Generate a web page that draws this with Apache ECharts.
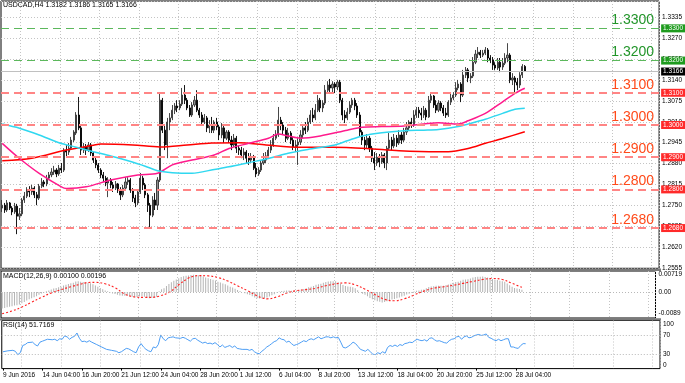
<!DOCTYPE html>
<html><head><meta charset="utf-8">
<script src="https://cdn.jsdelivr.net/npm/echarts@6/dist/echarts.min.js"></script>
<style>html,body{margin:0;padding:0;background:#fff}#c{width:685px;height:383px}</style>
</head><body><div id="c"></div>
<script>
const symbolName = 'USDCAD,H4';
const tickLabels = ['9 Jun 2016','14 Jun 04:00','16 Jun 20:00','21 Jun 12:00','24 Jun 04:00','28 Jun 20:00','1 Jul 12:00','6 Jul 04:00','8 Jul 20:00','13 Jul 12:00','18 Jul 04:00','20 Jul 20:00','25 Jul 12:00','28 Jul 04:00'];
const greenLevels = [1.3300, 1.3200];
const redLevels = [1.3100, 1.3000, 1.2900, 1.2800, 1.2680];
// [open, close, low, high]
const ohlc = [
[1.2742,1.2751,1.2730,1.2767],[1.2751,1.2736,1.2727,1.2758],[1.2736,1.2758,1.2730,1.2767],[1.2758,1.2742,1.2736,1.2761],
[1.2742,1.2730,1.2720,1.2748],[1.2730,1.2748,1.2724,1.2758],[1.2748,1.2717,1.2661,1.2755],[1.2717,1.2724,1.2705,1.2742],
[1.2724,1.2767,1.2717,1.2773],[1.2767,1.2779,1.2758,1.2792],[1.2779,1.2798,1.2773,1.2807],[1.2798,1.2792,1.2776,1.2810],
[1.2792,1.2804,1.2783,1.2814],[1.2804,1.2783,1.2773,1.2810],[1.2783,1.2773,1.2751,1.2792],[1.2773,1.2810,1.2767,1.2817],
[1.2810,1.2823,1.2804,1.2835],[1.2823,1.2817,1.2807,1.2829],[1.2817,1.2835,1.2810,1.2845],[1.2835,1.2845,1.2829,1.2854],
[1.2845,1.2854,1.2838,1.2866],[1.2854,1.2860,1.2845,1.2873],[1.2860,1.2848,1.2838,1.2866],[1.2848,1.2866,1.2842,1.2876],
[1.2866,1.2860,1.2851,1.2882],[1.2860,1.2922,1.2854,1.2928],[1.2922,1.2916,1.2900,1.2938],[1.2916,1.2928,1.2907,1.2944],
[1.2928,1.2953,1.2922,1.2963],[1.2953,1.2978,1.2947,1.2984],[1.2975,1.3031,1.2969,1.3040],[1.3031,1.2991,1.2984,1.3087],
[1.2991,1.2922,1.2907,1.2997],[1.2922,1.2932,1.2913,1.2944],[1.2932,1.2922,1.2907,1.2941],[1.2922,1.2938,1.2916,1.2947],
[1.2938,1.2913,1.2904,1.2944],[1.2913,1.2891,1.2882,1.2916],[1.2891,1.2876,1.2866,1.2900],[1.2876,1.2860,1.2851,1.2882],
[1.2860,1.2845,1.2835,1.2866],[1.2845,1.2835,1.2823,1.2854],[1.2835,1.2820,1.2810,1.2842],[1.2820,1.2829,1.2776,1.2838],
[1.2829,1.2814,1.2804,1.2835],[1.2814,1.2804,1.2792,1.2823],[1.2804,1.2817,1.2798,1.2826],[1.2817,1.2798,1.2789,1.2820],
[1.2798,1.2783,1.2767,1.2807],[1.2783,1.2804,1.2776,1.2814],[1.2804,1.2823,1.2798,1.2838],[1.2823,1.2829,1.2814,1.2838],
[1.2829,1.2798,1.2789,1.2835],[1.2798,1.2773,1.2761,1.2804],[1.2773,1.2758,1.2745,1.2783],[1.2758,1.2792,1.2751,1.2798],
[1.2792,1.2835,1.2786,1.2851],[1.2835,1.2814,1.2798,1.2842],[1.2814,1.2783,1.2773,1.2820],[1.2783,1.2751,1.2730,1.2789],
[1.2751,1.2720,1.2683,1.2758],[1.2720,1.2767,1.2714,1.2779],[1.2767,1.2751,1.2736,1.2789],[1.2751,1.2829,1.2736,1.2838],
[1.2829,1.3077,1.2823,1.3099],[1.3077,1.2984,1.2975,1.3084],[1.2984,1.2938,1.2922,1.3000],[1.2938,1.3009,1.2897,1.3022],
[1.3009,1.3022,1.2984,1.3037],[1.3022,1.3046,1.3015,1.3062],[1.3046,1.3059,1.3034,1.3068],[1.3059,1.3053,1.3040,1.3077],
[1.3053,1.3065,1.3046,1.3077],[1.3065,1.3093,1.3059,1.3115],[1.3093,1.3077,1.3065,1.3124],[1.3077,1.3053,1.3046,1.3084],
[1.3053,1.3031,1.3025,1.3062],[1.3031,1.3062,1.3025,1.3071],[1.3062,1.3077,1.3056,1.3090],[1.3077,1.3046,1.3040,1.3108],
[1.3046,1.3031,1.3022,1.3053],[1.3031,1.3009,1.3000,1.3040],[1.3009,1.3022,1.3003,1.3034],[1.3022,1.2991,1.2978,1.3028],
[1.2991,1.3000,1.2975,1.3015],[1.3000,1.2984,1.2975,1.3025],[1.2984,1.3009,1.2975,1.3015],[1.3009,1.2994,1.2984,1.3022],
[1.2994,1.2969,1.2953,1.3000],[1.2969,1.2991,1.2959,1.3006],[1.2991,1.2959,1.2944,1.2997],[1.2959,1.2978,1.2953,1.2984],
[1.2978,1.2953,1.2944,1.2984],[1.2953,1.2938,1.2922,1.2966],[1.2938,1.2959,1.2932,1.2972],[1.2959,1.2928,1.2913,1.2966],
[1.2928,1.2922,1.2907,1.2935],[1.2922,1.2907,1.2897,1.2932],[1.2907,1.2916,1.2891,1.2928],[1.2916,1.2897,1.2882,1.2922],
[1.2897,1.2891,1.2876,1.2913],[1.2891,1.2900,1.2885,1.2913],[1.2900,1.2866,1.2860,1.2907],[1.2866,1.2848,1.2838,1.2882],
[1.2848,1.2860,1.2842,1.2869],[1.2860,1.2882,1.2854,1.2891],[1.2882,1.2891,1.2876,1.2913],[1.2891,1.2904,1.2882,1.2916],
[1.2904,1.2922,1.2897,1.2932],[1.2922,1.2938,1.2913,1.2953],[1.2938,1.2959,1.2932,1.2972],[1.2959,1.2969,1.2953,1.2984],
[1.2969,1.3015,1.2963,1.3056],[1.3015,1.3000,1.2984,1.3025],[1.3000,1.2984,1.2969,1.3009],[1.2984,1.2959,1.2947,1.2994],
[1.2959,1.2975,1.2953,1.2991],[1.2975,1.2953,1.2941,1.2981],[1.2953,1.2932,1.2922,1.2963],[1.2932,1.2938,1.2916,1.2953],
[1.2938,1.2947,1.2876,1.2959],[1.2947,1.2969,1.2938,1.2984],[1.2969,1.2991,1.2959,1.3003],[1.2991,1.2984,1.2972,1.3009],
[1.2984,1.3009,1.2978,1.3022],[1.3009,1.3031,1.3003,1.3046],[1.3031,1.3022,1.3009,1.3053],[1.3022,1.3046,1.3015,1.3065],
[1.3046,1.3077,1.3040,1.3093],[1.3077,1.3053,1.3040,1.3084],[1.3053,1.3068,1.3040,1.3077],[1.3068,1.3108,1.3062,1.3124],
[1.3108,1.3124,1.3099,1.3136],[1.3124,1.3115,1.3102,1.3143],[1.3115,1.3127,1.3102,1.3136],[1.3127,1.3118,1.3099,1.3133],
[1.3118,1.3133,1.3108,1.3140],[1.3133,1.3077,1.3068,1.3140],[1.3077,1.3031,1.3015,1.3084],[1.3031,1.3022,1.3006,1.3046],
[1.3022,1.3040,1.3015,1.3053],[1.3040,1.3062,1.3034,1.3074],[1.3062,1.3077,1.3053,1.3084],[1.3077,1.3059,1.3046,1.3084],
[1.3059,1.3031,1.3022,1.3068],[1.3031,1.2978,1.2963,1.3040],[1.2978,1.2953,1.2938,1.2984],[1.2953,1.2938,1.2922,1.2963],
[1.2938,1.2959,1.2928,1.2972],[1.2959,1.2928,1.2916,1.2966],[1.2928,1.2897,1.2885,1.2935],[1.2897,1.2882,1.2860,1.2916],
[1.2882,1.2900,1.2873,1.2913],[1.2900,1.2885,1.2869,1.2910],[1.2885,1.2907,1.2879,1.2916],[1.2907,1.2882,1.2866,1.2913],
[1.2882,1.2928,1.2860,1.2935],[1.2928,1.2953,1.2922,1.2975],[1.2953,1.2935,1.2922,1.2963],[1.2935,1.2959,1.2928,1.2972],
[1.2959,1.2944,1.2932,1.2969],[1.2944,1.2969,1.2938,1.2984],[1.2969,1.2953,1.2941,1.2978],[1.2953,1.2978,1.2947,1.2991],
[1.2978,1.2991,1.2969,1.3009],[1.2991,1.3009,1.2984,1.3015],[1.3009,1.3000,1.2991,1.3022],[1.3000,1.3031,1.2994,1.3046],
[1.3031,1.3046,1.3022,1.3056],[1.3046,1.3037,1.3022,1.3056],[1.3037,1.3031,1.3015,1.3053],[1.3031,1.3046,1.3022,1.3059],
[1.3046,1.3025,1.3015,1.3053],[1.3025,1.3077,1.3022,1.3090],[1.3077,1.3090,1.3068,1.3099],[1.3090,1.3062,1.3053,1.3093],
[1.3062,1.3046,1.3037,1.3077],[1.3046,1.3068,1.3040,1.3077],[1.3068,1.3053,1.3043,1.3074],[1.3053,1.3037,1.3028,1.3062],
[1.3037,1.3031,1.3022,1.3053],[1.3031,1.3071,1.3025,1.3077],[1.3071,1.3084,1.3062,1.3099],[1.3084,1.3093,1.3077,1.3102],
[1.3093,1.3115,1.3087,1.3133],[1.3115,1.3127,1.3108,1.3140],[1.3127,1.3093,1.3071,1.3133],[1.3093,1.3155,1.3087,1.3171],
[1.3155,1.3171,1.3146,1.3180],[1.3171,1.3146,1.3133,1.3177],[1.3146,1.3152,1.3130,1.3161],[1.3152,1.3195,1.3146,1.3211],
[1.3195,1.3220,1.3189,1.3233],[1.3220,1.3226,1.3208,1.3242],[1.3226,1.3217,1.3208,1.3233],[1.3217,1.3223,1.3211,1.3233],
[1.3223,1.3233,1.3217,1.3242],[1.3233,1.3208,1.3195,1.3239],[1.3208,1.3202,1.3192,1.3217],[1.3202,1.3186,1.3171,1.3211],
[1.3186,1.3177,1.3171,1.3195],[1.3177,1.3195,1.3171,1.3208],[1.3195,1.3180,1.3164,1.3208],[1.3180,1.3192,1.3171,1.3208],
[1.3192,1.3208,1.3186,1.3223],[1.3208,1.3217,1.3195,1.3254],[1.3217,1.3140,1.3130,1.3223],[1.3140,1.3146,1.3124,1.3161],
[1.3146,1.3133,1.3102,1.3152],[1.3133,1.3124,1.3108,1.3146],[1.3124,1.3155,1.3115,1.3164],[1.3155,1.3182,1.3146,1.3189],
[1.3182,1.3166,1.3165,1.3186]
];
// moving averages, [bar index, value]
const redMA = [[0,1.2889],[12,1.2897],[26,1.2922],[37,1.2937],[40,1.2941],[53,1.2938],[64,1.2932],[75,1.2938],[85,1.2944],[96,1.2945],[107,1.2938],[121,1.2931],[134,1.2931],[148,1.2927],[161,1.2920],[177,1.2917],[181,1.2917],[189,1.2927],[196,1.2943],[203,1.2958],[212,1.2979]];
const pinkMA = [[0,1.2943],[7,1.2896],[15,1.2850],[24,1.2808],[26,1.2803],[34,1.2808],[44,1.2829],[55,1.2845],[63,1.2850],[69,1.2876],[77,1.2891],[86,1.2907],[92,1.2927],[100,1.2943],[108,1.2959],[112,1.2972],[116,1.2966],[121,1.2959],[129,1.2966],[140,1.2984],[146,1.2993],[154,1.2995],[163,1.2997],[171,1.3003],[177,1.3007],[185,1.3003],[189,1.3013],[196,1.3036],[203,1.3072],[208,1.3098],[212,1.3114]];
const cyanMA = [[0,1.3003],[7,1.2990],[15,1.2969],[23,1.2945],[30,1.2931],[37,1.2917],[44,1.2904],[50,1.2891],[58,1.2872],[63,1.2858],[69,1.2852],[77,1.2850],[86,1.2862],[92,1.2870],[100,1.2883],[108,1.2896],[116,1.2912],[124,1.2924],[135,1.2938],[140,1.2951],[146,1.2966],[154,1.2976],[163,1.2982],[171,1.2984],[177,1.2986],[185,1.2995],[190,1.3005],[196,1.3018],[203,1.3036],[208,1.3049],[212,1.3052]];
const macdMain = [
-0.0068,-0.0066,-0.0063,-0.0061,-0.0058,-0.0055,-0.0054,-0.0051,-0.0046,-0.0041,-0.0035,-0.0030,-0.0025,-0.0021,-0.0017,-0.0011,
-0.0006,-0.0002,0.0003,0.0007,0.0011,0.0015,0.0017,0.0020,0.0022,0.0027,0.0030,0.0033,0.0036,0.0039,0.0044,0.0045,
0.0043,0.0042,0.0040,0.0039,0.0036,0.0032,0.0027,0.0022,0.0017,0.0012,0.0007,0.0003,-0.0002,-0.0006,-0.0008,-0.0011,
-0.0014,-0.0015,-0.0015,-0.0015,-0.0017,-0.0019,-0.0021,-0.0020,-0.0017,-0.0017,-0.0019,-0.0022,-0.0025,-0.0024,-0.0024,-0.0019,
0.0003,0.0012,0.0016,0.0025,0.0033,0.0041,0.0047,0.0052,0.0057,0.0062,0.0065,0.0067,0.0068,0.0070,0.0072,0.0071,
0.0069,0.0066,0.0064,0.0060,0.0057,0.0054,0.0051,0.0048,0.0043,0.0040,0.0035,0.0032,0.0027,0.0022,0.0019,0.0014,
0.0009,0.0004,0.0000,-0.0005,-0.0009,-0.0012,-0.0017,-0.0022,-0.0025,-0.0026,-0.0026,-0.0025,-0.0022,-0.0018,-0.0013,-0.0009,
-0.0002,0.0002,0.0004,0.0005,0.0006,0.0006,0.0005,0.0005,0.0006,0.0008,0.0011,0.0013,0.0016,0.0020,0.0022,0.0025,
0.0030,0.0032,0.0034,0.0038,0.0042,0.0044,0.0045,0.0045,0.0045,0.0041,0.0034,0.0029,0.0025,0.0023,0.0022,0.0020,
0.0016,0.0008,0.0000,-0.0007,-0.0011,-0.0017,-0.0024,-0.0030,-0.0034,-0.0038,-0.0040,-0.0043,-0.0041,-0.0038,-0.0035,-0.0031,
-0.0029,-0.0025,-0.0022,-0.0018,-0.0015,-0.0010,-0.0007,-0.0003,0.0002,0.0005,0.0007,0.0010,0.0011,0.0016,0.0021,0.0023,
0.0024,0.0026,0.0026,0.0026,0.0026,0.0028,0.0031,0.0034,0.0038,0.0042,0.0043,0.0047,0.0051,0.0052,0.0053,0.0056,
0.0060,0.0062,0.0063,0.0063,0.0064,0.0062,0.0060,0.0057,0.0054,0.0052,0.0050,0.0047,0.0045,0.0043,0.0035,0.0028,
0.0022,0.0017,0.0015,0.0013,0.0010
];
const macdSignal = [[0,-0.0089],[4,-0.0078],[8,-0.0062],[12,-0.0042],[16,-0.0022],[20,-0.0004],[24,0.0010],[28,0.0022],[32,0.0033],[34,0.0038],[36,0.0040],[38,0.0040],[42,0.0034],[46,0.0018],[50,-0.0008],[54,-0.0020],[58,-0.0022],[62,-0.0021],[64,-0.0017],[68,-0.0002],[72,0.0030],[76,0.0058],[78,0.0065],[80,0.0068],[84,0.0067],[88,0.0060],[92,0.0046],[96,0.0026],[100,0.0006],[104,-0.0016],[106,-0.0024],[108,-0.0028],[112,-0.0020],[116,-0.0004],[120,0.0006],[124,0.0010],[128,0.0016],[132,0.0026],[136,0.0034],[140,0.0038],[144,0.0030],[148,0.0012],[152,-0.0010],[156,-0.0030],[160,-0.0036],[164,-0.0028],[168,-0.0012],[172,0.0004],[176,0.0016],[180,0.0022],[184,0.0028],[188,0.0036],[192,0.0044],[196,0.0052],[200,0.0056],[204,0.0052],[208,0.0036],[212,0.00196]];
const rsi = [[0,35],[2,37],[4,38],[5,36],[6,29],[7,33],[8,48],[9,50],[10,54],[12,55],[13,50],[14,47],[15,55],[16,57],[17,59],[18,61],[20,60],[21,61],[22,58],[23,62],[24,61],[25,68],[26,66],[27,61],[28,65],[29,67],[30,74],[31,63],[32,56],[33,57],[34,55],[35,58],[36,55],[38,50],[40,45],[42,40],[44,38],[46,36],[47,33],[48,35],[50,42],[51,41],[52,38],[53,35],[54,33],[55,45],[56,52],[57,45],[58,40],[59,37],[60,35],[61,45],[62,43],[63,50],[64,70],[65,62],[66,58],[67,64],[68,65],[69,66],[70,64],[72,63],[73,65],[74,63],[75,60],[76,57],[77,62],[78,63],[79,59],[80,56],[81,53],[82,55],[83,52],[84,53],[85,51],[86,54],[87,50],[88,45],[89,49],[90,44],[91,46],[92,48],[93,44],[94,47],[95,42],[96,41],[97,40],[99,40],[100,38],[101,40],[102,35],[103,32],[104,31],[105,36],[106,40],[107,45],[108,48],[109,52],[110,56],[111,58],[112,64],[113,61],[114,60],[115,55],[116,57],[117,52],[118,48],[119,50],[120,52],[121,55],[122,58],[123,56],[124,60],[125,62],[126,60],[127,63],[128,66],[129,62],[130,64],[131,66],[132,66],[133,64],[134,66],[135,64],[136,65],[137,55],[138,44],[139,43],[140,46],[141,50],[142,55],[143,52],[144,46],[145,40],[146,38],[147,36],[148,40],[149,35],[150,30],[151,29],[152,33],[153,31],[154,35],[155,32],[156,44],[157,48],[158,46],[159,49],[160,46],[161,50],[162,48],[163,52],[164,53],[165,55],[166,54],[167,58],[168,61],[169,59],[170,58],[171,60],[172,57],[173,63],[174,64],[175,60],[176,57],[177,58],[178,56],[179,54],[180,53],[181,58],[182,61],[183,62],[184,66],[185,67],[186,61],[187,66],[188,68],[189,64],[190,65],[191,68],[192,70],[193,71],[194,69],[195,70],[196,72],[197,65],[198,63],[199,60],[200,58],[201,61],[202,58],[203,60],[204,62],[205,62],[206,45],[207,45],[208,43],[209,42],[210,48],[211,52],[212,51.7169]];

const N = 267;
const cats = Array.from({length: N}, (_, i) => String(i));
const F = "'Liberation Sans Narrow','Arial Narrow','Liberation Sans',Arial,sans-serif";
const last = ohlc[ohlc.length - 1];
const lastClose = last[1];

function xAxisFor(gi, labels) {
  return {
    type: 'category', gridIndex: gi, data: cats, boundaryGap: true,
    axisLine: {show: false},
    axisTick: labels ? {show: true, length: 2, alignWithLabel: true, interval: i => i % 16 === 0 && i <= 208, lineStyle: {color: '#000'}} : {show: false},
    axisLabel: labels ? {show: true, interval: i => i % 16 === 0 && i <= 208, formatter: v => tickLabels[Number(v) / 16] || '', align: 'left', fontSize: 6.5, color: '#000', margin: 3, fontFamily: F} : {show: false},
    splitLine: {show: true, interval: i => i >= 8 && (i - 8) % 16 === 0, lineStyle: {color: '#c4c4c4', type: [1, 2], width: 1}}
  };
}
const axLab = {fontSize: 6.5, color: '#000', margin: 3, fontFamily: F};
const clear = {color: 'rgba(0,0,0,0)', width: 0, type: 'solid'};

const levelLines = [];
greenLevels.forEach(v => {
  levelLines.push({yAxis: v, lineStyle: {color: '#5cb85c', type: [8, 5], width: 1.2},
    label: {show: true, position: 'end', formatter: () => v.toFixed(4), color: '#fff', backgroundColor: '#1e9b1e', padding: [1, 2, 0, 2], fontSize: 6.5, fontFamily: F, distance: 2}});
  levelLines.push({yAxis: v, lineStyle: clear,
    label: {show: true, position: 'insideEndTop', formatter: () => v.toFixed(4), color: '#22952a', fontSize: 14, fontFamily: F, distance: [5, 1]}});
});
redLevels.forEach(v => {
  levelLines.push({yAxis: v, lineStyle: {color: '#ff8585', type: [8, 5], width: 1.8},
    label: {show: true, position: 'end', formatter: () => v.toFixed(4), color: '#fff', backgroundColor: '#ff2a2a', padding: [1, 2, 0, 2], fontSize: 6.5, fontFamily: F, distance: 2}});
  levelLines.push({yAxis: v, lineStyle: clear,
    label: {show: true, position: 'insideEndTop', formatter: () => v.toFixed(4), color: '#ff4a1a', fontSize: 14, fontFamily: F, distance: [5, 1]}});
});
levelLines.push({yAxis: lastClose, lineStyle: {color: '#c0c0c0', type: 'solid', width: 1},
  label: {show: true, position: 'end', formatter: () => lastClose.toFixed(4), color: '#fff', backgroundColor: '#000', padding: [1, 2, 0, 2], fontSize: 6.5, fontFamily: F, distance: 2}});

const titleStyle = {fontSize: 7, fontWeight: 'normal', color: '#000', fontFamily: F};
const option = {
  animation: false,
  backgroundColor: '#fff',
  textStyle: {fontFamily: F},
  title: [
    {text: `${symbolName} ${last[0].toFixed(4)} ${last[3].toFixed(4)} ${last[2].toFixed(4)} ${last[1].toFixed(4)}`, left: 3, top: 2, padding: 0, textStyle: titleStyle},
    {text: `MACD(12,26,9) ${macdMain[macdMain.length - 1].toFixed(5)} ${macdSignal[macdSignal.length - 1][1].toFixed(5)}`, left: 3, top: 272.5, padding: 0, textStyle: titleStyle},
    {text: `RSI(14) ${rsi[rsi.length - 1][1].toFixed(4)}`, left: 3, top: 322, padding: 0, textStyle: titleStyle}
  ],
  grid: [
    {left: 1, top: 1, width: 659, height: 267.3, show: true, borderColor: '#000', borderWidth: 1},
    {left: 1, top: 271, width: 659, height: 47, show: true, borderColor: '#000', borderWidth: 1},
    {left: 1, top: 320.5, width: 659, height: 48.1, show: true, borderColor: '#000', borderWidth: 1}
  ],
  xAxis: [xAxisFor(0, false), xAxisFor(1, false), xAxisFor(2, true)],
  yAxis: [
    {type: 'value', gridIndex: 0, position: 'right', min: 1.2555, max: 1.3385, interval: 0.0065,
      axisLine: {show: false}, axisTick: {show: false},
      axisLabel: Object.assign({showMaxLabel: false, formatter: v => v.toFixed(4)}, axLab),
      splitLine: {show: true, lineStyle: {color: '#c4c4c4', type: [1, 2], width: 1}}},
    {type: 'value', gridIndex: 1, position: 'right', min: -0.0107, max: 0.0087,
      axisLine: {show: false}, axisTick: {show: false},
      axisLabel: Object.assign({customValues: [-0.0089, 0, 0.00719], formatter: v => Math.abs(v) < 1e-9 ? '0.00' : (v > 0 ? v.toFixed(5) : v.toFixed(4))}, axLab),
      splitLine: {show: false}},
    {type: 'value', gridIndex: 2, position: 'right', min: 0, max: 100,
      axisLine: {show: false}, axisTick: {show: false},
      axisLabel: Object.assign({customValues: [0, 30, 70, 100], verticalAlignMinLabel: 'bottom', verticalAlignMaxLabel: 'top', formatter: v => String(v)}, axLab),
      splitLine: {show: false}}
  ],
  graphic: [
    {type: 'rect', shape: {x: 0, y: 268.6, width: 661, height: 2.4}, style: {fill: '#7a7a7a'}, z: 100},
    {type: 'rect', shape: {x: 0, y: 318.2, width: 661, height: 2.3}, style: {fill: '#7a7a7a'}, z: 100}
  ],
  series: [
    {type: 'candlestick', xAxisIndex: 0, yAxisIndex: 0, data: ohlc, barWidth: 1.6,
      itemStyle: {color: '#8e8e8e', color0: '#000', borderColor: '#333', borderColor0: '#000', borderWidth: 0.9},
      markLine: {symbol: ['none', 'none'], silent: true, animation: false, precision: 4, data: levelLines}},
    {type: 'line', xAxisIndex: 0, yAxisIndex: 0, data: redMA, smooth: 0.3, showSymbol: false, lineStyle: {color: '#ff0000', width: 1.5}},
    {type: 'line', xAxisIndex: 0, yAxisIndex: 0, data: pinkMA, smooth: 0.3, showSymbol: false, lineStyle: {color: '#ff1a8c', width: 1.5}},
    {type: 'line', xAxisIndex: 0, yAxisIndex: 0, data: cyanMA, smooth: 0.3, showSymbol: false, lineStyle: {color: '#30d8f0', width: 1.5}},
    {type: 'bar', xAxisIndex: 1, yAxisIndex: 1, data: macdMain, barWidth: 1, itemStyle: {color: '#b4b4b4'},
      markLine: {symbol: ['none', 'none'], silent: true, precision: 4, label: {show: false}, data: [{yAxis: 0}], lineStyle: {color: '#b8b8b8', type: [1, 2], width: 1}}},
    {type: 'line', xAxisIndex: 1, yAxisIndex: 1, data: macdSignal, smooth: 0.4, showSymbol: false, lineStyle: {color: '#ff2020', type: [2, 2], width: 1.1}},
    {type: 'line', xAxisIndex: 2, yAxisIndex: 2, data: rsi, showSymbol: false, lineStyle: {color: '#4d9ef5', width: 1},
      markLine: {symbol: ['none', 'none'], silent: true, label: {show: false}, data: [{yAxis: 70}, {yAxis: 30}], lineStyle: {color: '#b8b8b8', type: [1, 2], width: 1}}}
  ]
};
const chart = echarts.init(document.getElementById('c'), null, {renderer: 'canvas'});
chart.setOption(option);
</script></body></html>
